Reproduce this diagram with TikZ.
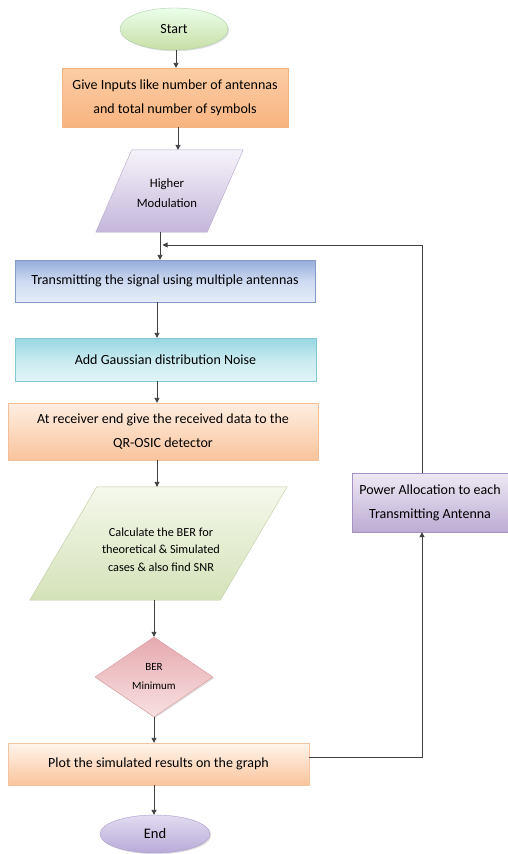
\documentclass[tikz,border=0pt]{standalone}
\usepackage{fontspec}
\setmainfont{Carlito}
\usetikzlibrary{shapes.geometric,arrows.meta,shadows,calc,backgrounds}
\definecolor{linec}{HTML}{404040}
\tikzset{
  base/.style={align=center, font=\fontsize{14}{24}\selectfont, inner sep=2pt,
    drop shadow={opacity=0.25, shadow xshift=1.2pt, shadow yshift=-1.2pt}},
  boxnode/.style={base, rectangle},
  arr/.style={-{Triangle[length=5pt,width=5pt]}, draw=linec, line width=0.9pt},
  ghost/.style={rectangle, align=center, inner sep=0pt},
}
\begin{document}
\begin{tikzpicture}[x=1pt,y=-1pt]
\useasboundingbox (0,0) rectangle (508,854);

% nodes
\node[base, ellipse, minimum width=108pt, minimum height=42pt,
  draw=green!30!gray!50, top color=green!8!white, bottom color={rgb,255:red,200;green,222;blue,166}]
  (start) at (174,29) {Start};

\node[boxnode, minimum width=226pt, minimum height=59pt, draw={rgb,255:red,240;green,180;blue,130},
  top color={rgb,255:red,252;green,205;blue,165}, bottom color={rgb,255:red,248;green,180;blue,128}]
  (inp) at (175,97.5) {Give Inputs like number of antennas\\and total number of symbols};

\node[ghost, minimum width=111pt, minimum height=82pt] (hm) at (169.5,191) {};
\node[ghost, font=\fontsize{12.7}{20}\selectfont] (hmtext) at (167,193.5) {Higher\\Modulation};

\node[boxnode, minimum width=300pt, minimum height=42pt, draw={rgb,255:red,130;green,155;blue,200},
  top color={rgb,255:red,150;green,172;blue,218}, bottom color={rgb,255:red,228;green,236;blue,248},
  middle color={rgb,255:red,205;green,218;blue,240}]
  (trans) at (165,281) {Transmitting the signal using multiple antennas};

\node[boxnode, minimum width=301pt, minimum height=43pt, draw={rgb,255:red,130;green,200;blue,212},
  top color={rgb,255:red,150;green,214;blue,226}, bottom color={rgb,255:red,226;green,244;blue,247},
  middle color={rgb,255:red,200;green,234;blue,240}]
  (gauss) at (165.5,359.5) {Add Gaussian distribution Noise};

\node[boxnode, minimum width=310pt, minimum height=57pt, draw={rgb,255:red,245;green,190;blue,150},
  top color={rgb,255:red,254;green,238;blue,225}, bottom color={rgb,255:red,249;green,196;blue,156}]
  (recv) at (163,431.5) {At receiver end give the received data to the\\QR-OSIC detector};

\node[ghost, minimum width=190pt, minimum height=113pt] (calc) at (158.5,543.5) {};
\node[ghost, font=\fontsize{12.3}{17.5}\selectfont] (calctext) at (161,549.5)
  {Calculate the BER for\\theoretical \& Simulated\\cases \& also find SNR};

\node[base, diamond, minimum width=118pt, minimum height=80pt, aspect=1.5, inner sep=0pt,
  font=\fontsize{11}{19}\selectfont, draw={rgb,255:red,215;green,150;blue,155},
  top color={rgb,255:red,230;green,170;blue,175}, bottom color={rgb,255:red,248;green,224;blue,225}]
  (dia) at (154,677) {BER\\Minimum};

\node[boxnode, minimum width=301pt, minimum height=42pt, draw={rgb,255:red,245;green,195;blue,160},
  top color={rgb,255:red,255;green,245;blue,236}, bottom color={rgb,255:red,249;green,196;blue,156}]
  (plot) at (158.5,764) {Plot the simulated results on the graph};

\node[base, ellipse, minimum width=110pt, minimum height=38pt, font=\fontsize{14.5}{16}\selectfont,
  draw={rgb,255:red,170;green,155;blue,205},
  top color={rgb,255:red,226;green,220;blue,240}, bottom color={rgb,255:red,184;green,170;blue,216}]
  (end) at (155,834) {End};

\node[boxnode, minimum width=156pt, minimum height=59pt, draw={rgb,255:red,165;green,145;blue,195},
  top color={rgb,255:red,238;green,233;blue,244}, bottom color={rgb,255:red,188;green,172;blue,212}]
  (pow) at (430,502.5) {Power Allocation to each\\Transmitting Antenna};

% parallelogram bodies on background
\begin{pgfonlayer}{background}
  \fill[white] (0,0) rectangle (508,854);
  \fill[black, opacity=0.2, xshift=1.2pt, yshift=-1.2pt]
    ($(hm.north west)+(18,0)$) -- ($(hm.north east)+(18,0)$) --
    ($(hm.south east)+(-18,0)$) -- ($(hm.south west)+(-18,0)$) -- cycle;
  \path[draw={rgb,255:red,185;green,172;blue,210},
    top color={rgb,255:red,246;green,243;blue,250}, bottom color={rgb,255:red,196;green,182;blue,218}]
    ($(hm.north west)+(18,0)$) -- ($(hm.north east)+(18,0)$) --
    ($(hm.south east)+(-18,0)$) -- ($(hm.south west)+(-18,0)$) -- cycle;
  \fill[black, opacity=0.2, xshift=1.2pt, yshift=-1.2pt]
    ($(calc.north west)+(33.5,0)$) -- ($(calc.north east)+(33.5,0)$) --
    ($(calc.south east)+(-33.5,0)$) -- ($(calc.south west)+(-33.5,0)$) -- cycle;
  \path[draw={rgb,255:red,195;green,210;blue,165},
    top color={rgb,255:red,245;green,248;blue,236}, bottom color={rgb,255:red,212;green,226;blue,184}]
    ($(calc.north west)+(33.5,0)$) -- ($(calc.north east)+(33.5,0)$) --
    ($(calc.south east)+(-33.5,0)$) -- ($(calc.south west)+(-33.5,0)$) -- cycle;
\end{pgfonlayer}

% axis coordinates
\coordinate (a1) at (176,0);
\coordinate (a2) at (178,0);
\coordinate (m) at (160,245);
\coordinate (a3) at (157,0);
\coordinate (a4) at (154,0);
\coordinate (fb) at (422,757);

% connectors
\draw[arr] (start.south -| a1) -- (inp.north -| a1);
\draw[arr] (inp.south -| a2) -- (hm.north -| a2);
\draw[arr] (hm.south -| m) -- (trans.north -| m);
\draw[arr] (trans.south -| a3) -- (gauss.north -| a3);
\draw[arr] (gauss.south -| a3) -- (recv.north -| a3);
\draw[arr] (recv.south -| a3) -- (calc.north -| a3);
\draw[arr] (calc.south -| a4) -- (dia.north -| a4);
\draw[arr] (dia.south -| a4) -- (plot.north -| a4);
\draw[arr] (plot.south -| a4) -- (end.north -| a4);
\draw[arr] (plot.east |- fb) -| (pow.south -| fb);
\draw[arr] (pow.north -| fb) |- ($(m)+(2.5,0)$);
\end{tikzpicture}
\end{document}
